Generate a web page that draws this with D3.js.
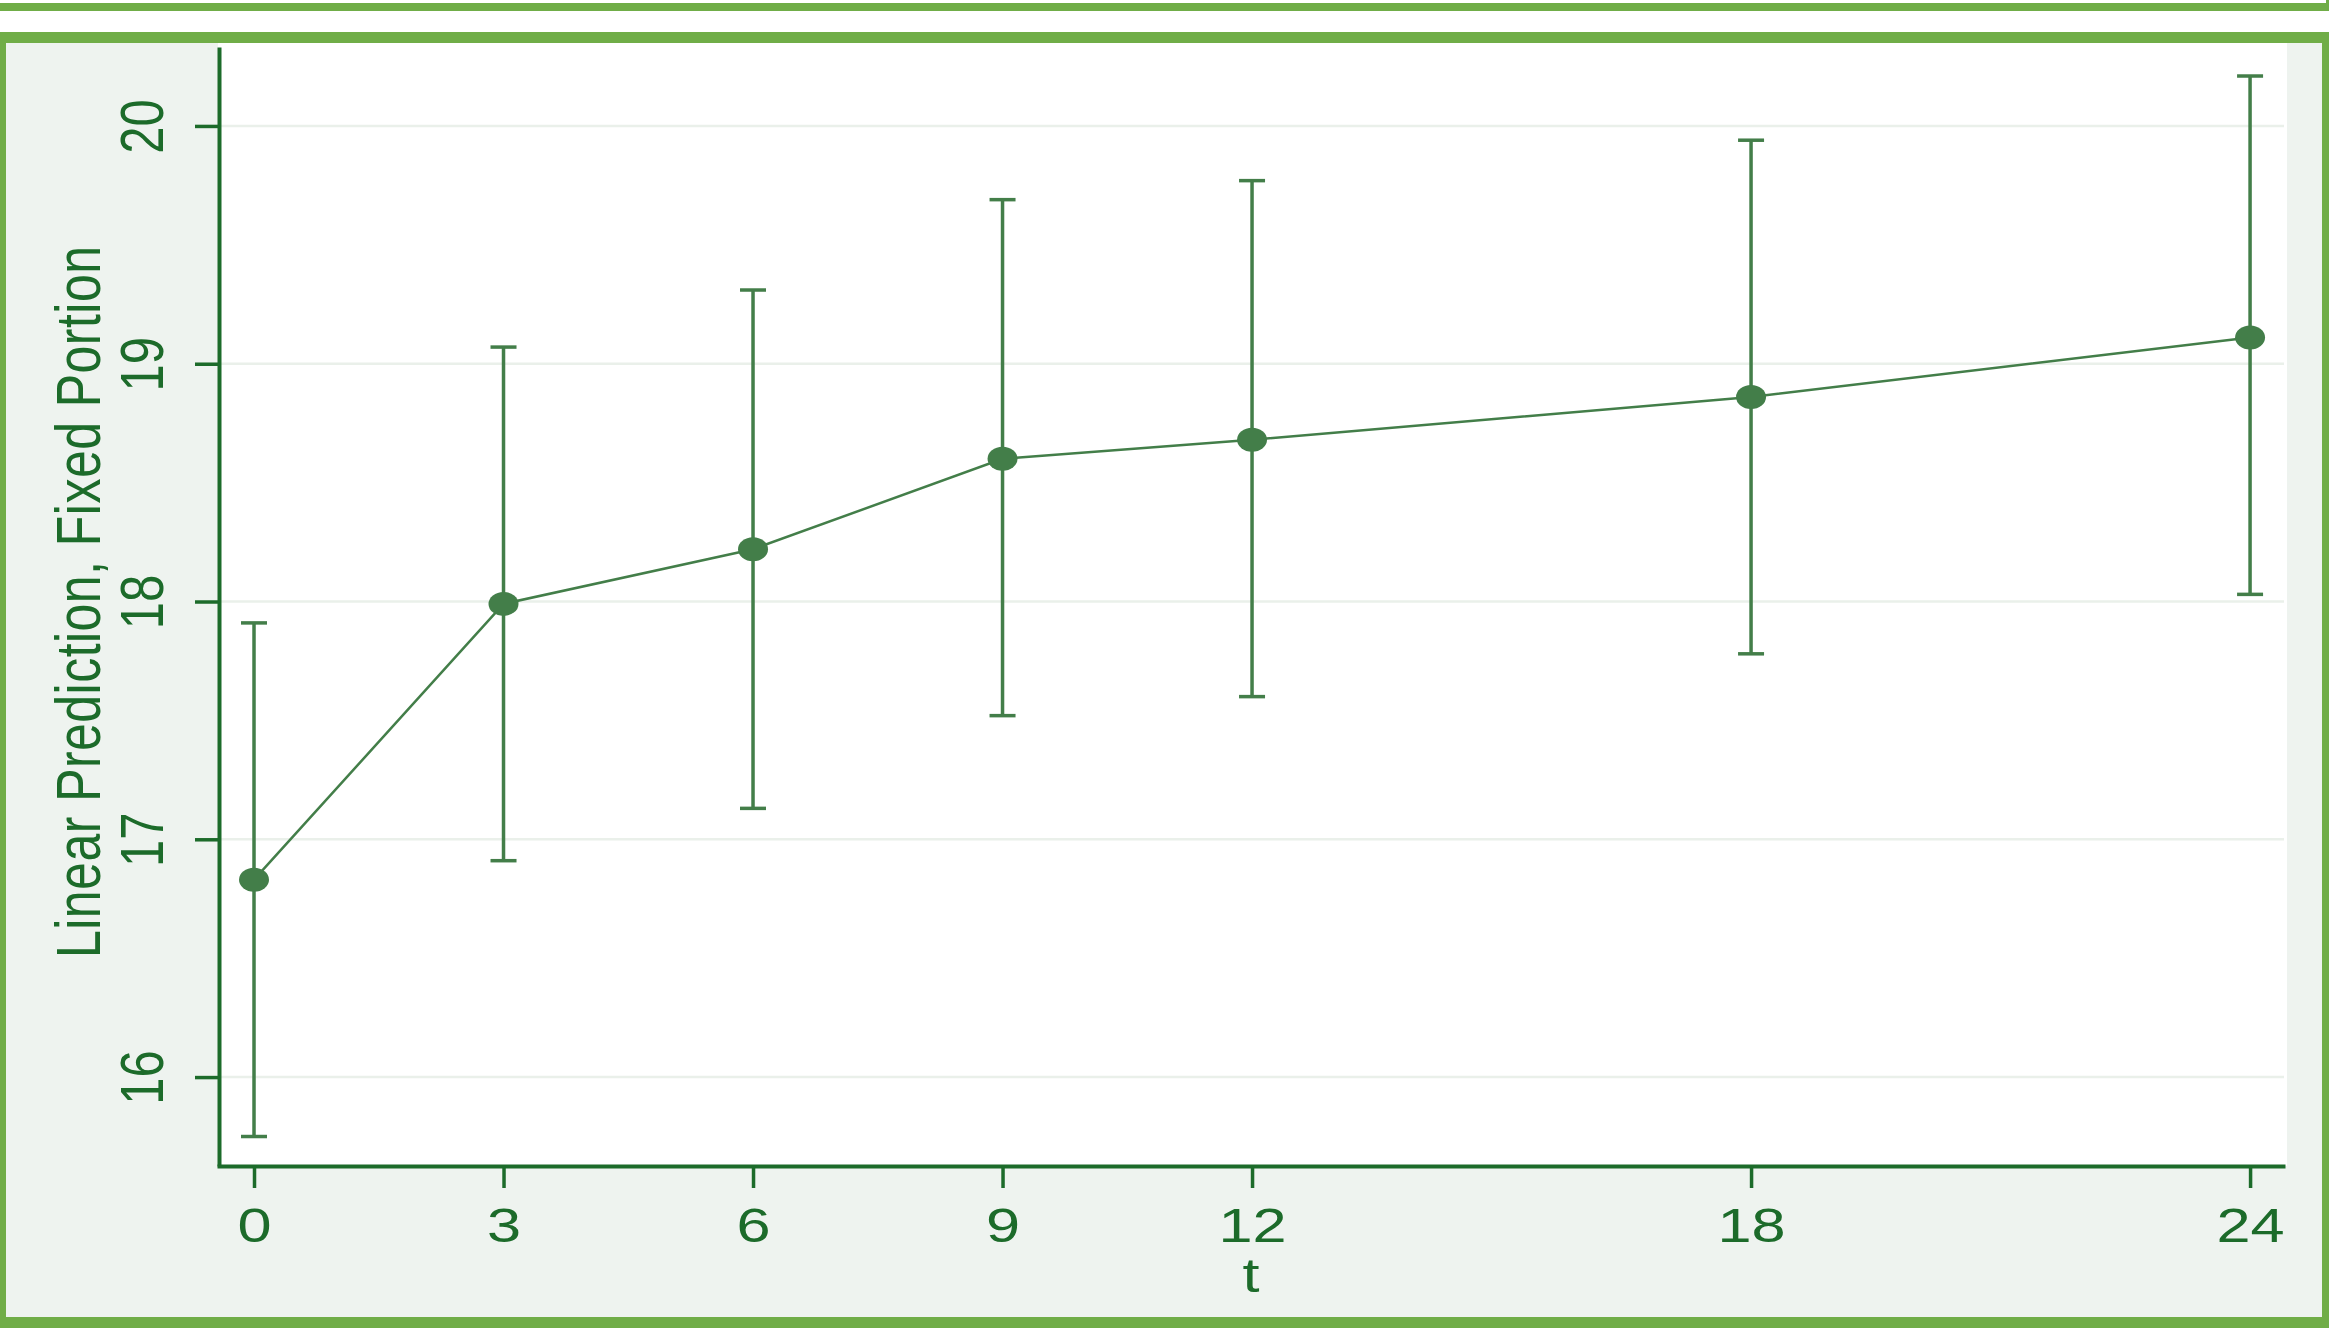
<!DOCTYPE html>
<html>
<head>
<meta charset="utf-8">
<script src="https://cdn.jsdelivr.net/npm/d3@7"></script>
<style>
  html, body { margin: 0; padding: 0; background: #ffffff; }
  svg { display: block; }
  text { font-family: "Liberation Sans", Arial, sans-serif; }
</style>
</head>
<body>
<svg id="chart" width="2329" height="1344"></svg>
<script>
// Follow-up times (months) and the fitted fixed-portion prediction with its CI
const tValues   = [0, 3, 6, 9, 12, 18, 24];
const predicted = [16.83, 17.99, 18.22, 18.60, 18.68, 18.86, 19.11];
const ciLower   = [15.75, 16.91, 17.13, 17.52, 17.60, 17.78, 18.03];
const ciUpper   = [17.91, 19.07, 19.31, 19.69, 19.77, 19.94, 20.21];

// Axis ticks and titles
const xTicks = [0, 3, 6, 9, 12, 18, 24];
const yTicks = [16, 17, 18, 19, 20];
const xTitle = "t";
const yTitle = "Linear Prediction, Fixed Portion";

// Axis ranges (data units)
const xRange = [-0.445, 24.42];
const yRange = [15.626, 20.332];

const W = 2329, H = 1344;
const plot = { left: 217, right: 2285, top: 47, bottom: 1166 };
const SX = 1.25; // horizontal stretch of the output

const C = {
  frame: "#70ad47",
  outer: "#eef3ef",
  axis: "#1c6b2a",
  text: "#1c6b2a",
  grid: "#eaf0ea",
  series: "#437e49"
};

const svg = d3.select("#chart");

const x = d3.scaleLinear().domain(xRange).range([plot.left, plot.right]);
const y = d3.scaleLinear().domain(yRange).range([plot.bottom, plot.top]);

// Remnant of the frame above
svg.append("rect").attr("x", 0).attr("y", 3).attr("width", W).attr("height", 8).attr("fill", C.frame);
svg.append("rect").attr("x", W - 3).attr("y", 0).attr("width", 3).attr("height", 11).attr("fill", C.frame);

// Graph region and frame
svg.append("rect").attr("x", 0).attr("y", 32).attr("width", W).attr("height", 1296).attr("fill", C.outer);
svg.append("rect").attr("x", plot.left + 1).attr("y", 43).attr("width", 2287 - plot.left - 1).attr("height", plot.bottom - 43).attr("fill", "#ffffff");
svg.append("rect").attr("x", 0).attr("y", 32).attr("width", W).attr("height", 11).attr("fill", C.frame);
svg.append("rect").attr("x", 0).attr("y", 1317).attr("width", W).attr("height", 11).attr("fill", C.frame);
svg.append("rect").attr("x", 0).attr("y", 32).attr("width", 6).attr("height", 1296).attr("fill", C.frame);
svg.append("rect").attr("x", 2322).attr("y", 32).attr("width", 7).attr("height", 1296).attr("fill", C.frame);

// Gridlines
svg.append("g").selectAll("line").data(yTicks).join("line")
  .attr("x1", plot.left + 2).attr("x2", plot.right - 1)
  .attr("y1", d => y(d)).attr("y2", d => y(d))
  .attr("stroke", C.grid).attr("stroke-width", 2.5);

// Y axis
const gy = svg.append("g").attr("transform", `translate(${plot.left + 2},0)`)
  .call(d3.axisLeft(y).tickValues(yTicks).tickSize(24).tickSizeOuter(0).tickFormat(d3.format("d")));
gy.select(".domain").attr("stroke", C.axis).attr("stroke-width", 4);
gy.selectAll(".tick line").attr("stroke", C.axis).attr("stroke-width", 3.5);
gy.selectAll(".tick text")
  .attr("x", null).attr("dy", null).attr("y", 0)
  .attr("text-anchor", "middle")
  .attr("transform", `translate(${163 - plot.left - 2},0) scale(${SX},1) rotate(-90)`)
  .attr("fill", C.text).style("font-size", "49px").style("font-family", "'Liberation Sans', Arial, sans-serif");

// X axis
const gx = svg.append("g").attr("transform", `translate(0,${plot.bottom})`)
  .call(d3.axisBottom(x).tickValues(xTicks).tickSize(22).tickSizeOuter(0).tickFormat(d3.format("d")));
gx.select(".domain").attr("stroke", C.axis).attr("stroke-width", 4);
gx.selectAll(".tick line").attr("stroke", C.axis).attr("stroke-width", 3.5);
gx.selectAll(".tick text")
  .attr("y", null).attr("dy", null)
  .attr("text-anchor", "middle")
  .attr("transform", `translate(0,76) scale(${SX},1)`)
  .attr("fill", C.text).style("font-size", "49px").style("font-family", "'Liberation Sans', Arial, sans-serif");

// Axis titles
svg.append("text")
  .attr("transform", `translate(${(plot.left + plot.right) / 2},1292) scale(${SX},1)`)
  .attr("text-anchor", "middle").attr("fill", C.text).style("font-size", "49px")
  .text(xTitle);
svg.append("text")
  .attr("transform", `translate(100,602) scale(${SX},1) rotate(-90)`)
  .attr("text-anchor", "middle").attr("fill", C.text).style("font-size", "50px")
  .attr("textLength", 712).attr("lengthAdjust", "spacing")
  .text(yTitle);

const rows = tValues.map((t, i) => ({ t, p: predicted[i], lo: ciLower[i], hi: ciUpper[i] }));

// Confidence intervals
const ci = svg.append("g").attr("stroke", C.series).attr("fill", "none");
ci.selectAll("line.bar").data(rows).join("line").attr("class", "bar")
  .attr("x1", d => x(d.t)).attr("x2", d => x(d.t))
  .attr("y1", d => y(d.lo)).attr("y2", d => y(d.hi))
  .attr("stroke-width", 3.5);
ci.selectAll("line.capHi").data(rows).join("line").attr("class", "capHi")
  .attr("x1", d => x(d.t) - 13).attr("x2", d => x(d.t) + 13)
  .attr("y1", d => y(d.hi)).attr("y2", d => y(d.hi))
  .attr("stroke-width", 3.5);
ci.selectAll("line.capLo").data(rows).join("line").attr("class", "capLo")
  .attr("x1", d => x(d.t) - 13).attr("x2", d => x(d.t) + 13)
  .attr("y1", d => y(d.lo)).attr("y2", d => y(d.lo))
  .attr("stroke-width", 3.5);

// Connected prediction line
svg.append("path").datum(rows)
  .attr("d", d3.line().x(d => x(d.t)).y(d => y(d.p)))
  .attr("fill", "none").attr("stroke", C.series).attr("stroke-width", 2.5);

// Markers
const sym = d3.symbol().type(d3.symbolCircle).size(Math.PI * 12 * 12);
svg.append("g").selectAll("path").data(rows).join("path")
  .attr("d", sym)
  .attr("transform", d => `translate(${x(d.t)},${y(d.p)}) scale(${SX},1)`)
  .attr("fill", C.series);
</script>
</body>
</html>
